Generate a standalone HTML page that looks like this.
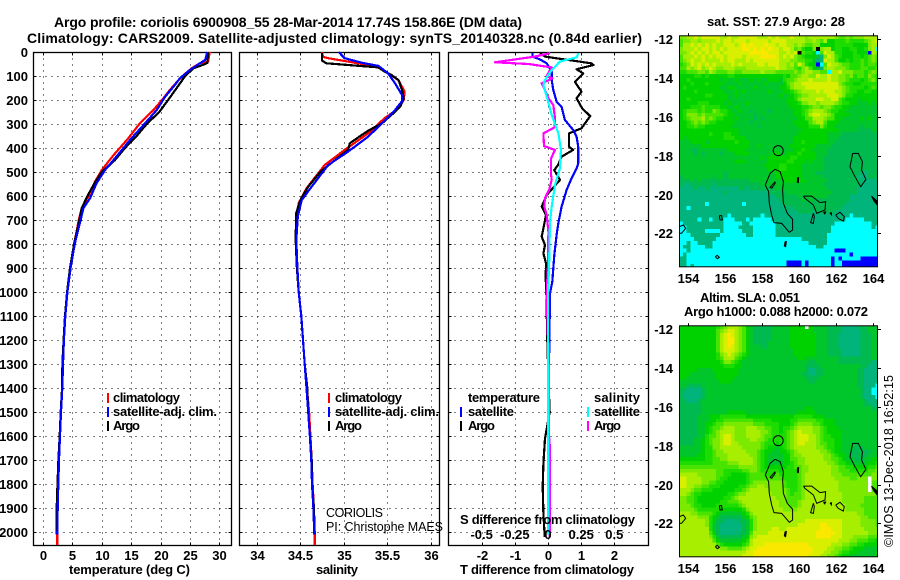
<!DOCTYPE html>
<html lang="en">
<head>
<meta charset="utf-8">
<title>Argo profile coriolis 6900908_55</title>
<style>
html,body{margin:0;padding:0;background:#fff;}
svg{display:block;}
text{font-family:"Liberation Sans",sans-serif;fill:#000;}
.b{font-weight:bold;font-size:13px;}
.t{font-weight:bold;font-size:14px;}
.r{font-weight:normal;font-size:12.5px;}
</style>
</head>
<body>
<svg id="figure" xmlns="http://www.w3.org/2000/svg" width="900" height="580" viewBox="0 0 900 580">
  <defs>
    <clipPath id="clip-map-a"><rect x="679.5" y="35.5" width="198" height="231"/></clipPath>
    <clipPath id="clip-map-b"><rect x="679.5" y="325.5" width="198" height="231"/></clipPath>
  </defs>
  <rect x="0" y="0" width="900" height="580" fill="#fff"/>

  <text class="t" x="54" y="27" textLength="468" lengthAdjust="spacing">Argo profile: coriolis 6900908_55 28-Mar-2014 17.74S 158.86E (DM data)</text>
  <text class="t" x="27" y="43" textLength="615" lengthAdjust="spacing">Climatology: CARS2009. Satellite-adjusted climatology: synTS_20140328.nc (0.84d earlier)</text>

  <g id="panel-temperature"></g>
  <g id="panel-salinity"></g>
  <g id="panel-difference"></g>
  <g id="map-sst"></g>
  <g id="map-sla"></g>

  <text class="b" x="69" y="574" textLength="121" lengthAdjust="spacing">temperature (deg C)</text>
  <text class="b" x="316" y="574" textLength="42" lengthAdjust="spacing">salinity</text>
  <text class="b" x="460" y="574" textLength="174" lengthAdjust="spacing">T difference from climatology</text>
  <text class="b" x="460" y="524" textLength="175" lengthAdjust="spacing">S difference from climatology</text>

  <g>
    <rect x="107" y="393" width="2" height="10" fill="#f00"/>
    <text class="b" x="113" y="402" textLength="67" lengthAdjust="spacing">climatology</text>
    <rect x="107" y="407" width="2" height="10" fill="#00f"/>
    <text class="b" x="113" y="416" textLength="104" lengthAdjust="spacing">satellite-adj. clim.</text>
    <rect x="107" y="421" width="2" height="10" fill="#000"/>
    <text class="b" x="113" y="430" textLength="27" lengthAdjust="spacing">Argo</text>
  </g>
  <g>
    <rect x="328" y="393" width="2" height="10" fill="#f00"/>
    <text class="b" x="335" y="402" textLength="67" lengthAdjust="spacing">climatology</text>
    <rect x="328" y="407" width="2" height="10" fill="#00f"/>
    <text class="b" x="335" y="416" textLength="104" lengthAdjust="spacing">satellite-adj. clim.</text>
    <rect x="328" y="421" width="2" height="10" fill="#000"/>
    <text class="b" x="335" y="430" textLength="27" lengthAdjust="spacing">Argo</text>
  </g>
  <g>
    <text class="b" x="468" y="402" textLength="72" lengthAdjust="spacing">temperature</text>
    <rect x="460" y="407" width="2" height="10" fill="#00f"/>
    <text class="b" x="468" y="416" textLength="46" lengthAdjust="spacing">satellite</text>
    <rect x="460" y="421" width="2" height="10" fill="#000"/>
    <text class="b" x="468" y="430" textLength="27" lengthAdjust="spacing">Argo</text>
    <text class="b" x="594" y="402" textLength="46" lengthAdjust="spacing">salinity</text>
    <rect x="587" y="407" width="2" height="10" fill="#0ff"/>
    <text class="b" x="594" y="416" textLength="46" lengthAdjust="spacing">satellite</text>
    <rect x="587" y="421" width="2" height="10" fill="#f0f"/>
    <text class="b" x="594" y="430" textLength="27" lengthAdjust="spacing">Argo</text>
  </g>

  <text class="r" x="326" y="517" textLength="57" lengthAdjust="spacing">CORIOLIS</text>
  <text class="r" x="326" y="531" textLength="117" lengthAdjust="spacing">PI: Christophe MAES</text>

  <text class="b" x="707" y="26" textLength="138" lengthAdjust="spacing">sat. SST: 27.9 Argo: 28</text>
  <text class="b" x="700" y="302" textLength="100" lengthAdjust="spacing">Altim. SLA: 0.051</text>
  <text class="b" x="684" y="316" textLength="184" lengthAdjust="spacing">Argo h1000: 0.088 h2000: 0.072</text>
  <text class="r" font-size="13" transform="translate(893,547) rotate(-90)" textLength="172" lengthAdjust="spacing">©IMOS 13-Dec-2018 16:52:15</text>

<script>
// ---------- chart data ----------
const depthTicks = [0,100,200,300,400,500,600,700,800,900,1000,1100,1200,1300,1400,1500,1600,1700,1800,1900,2000];
const temperatureTicks = [0,5,10,15,20,25,30];
const salinityTicks = [34,34.5,35,35.5,36];
const tDifferenceTicks = [-2,-1,0,1,2];
const sDifferenceTicks = ["-0.5","-0.25","0","0.25","0.5"];
const lonTicks = [154,156,158,160,162,164];
const latTicks = [-12,-14,-16,-18,-20,-22];

const climTempDepth = [0,40,47,68,103,158,193,242,297,360,430,492,540,603,650,700,800,900,1000,1100,1200,1300,1400,1500,1600,1700,1800,1900,2000,2055];
const climTempValue = [28.4,28.1,26.7,25.3,23.6,21.6,20.5,18.8,16.5,14.5,12,10,8.85,7.7,6.6,6.1,5.3,4.6,4.1,3.75,3.5,3.3,3.25,3.02,2.85,2.68,2.55,2.48,2.42,2.42];
const argoTempDepth = [0,45,50,68,100,150,200,250,300,350,400,450,500,550,600,650,700,800,900,1000,1100,1200,1300,1400,1500,1600,1700,1800,1900,2010];
const argoTempValue = [28.1,27.97,27.6,25.6,24.2,22.75,21.3,19.8,17.65,15.95,13.96,12.25,10,8.7,7.55,6.6,6.2,5.3,4.6,4.1,3.75,3.5,3.3,3.25,3.02,2.85,2.62,2.47,2.33,2.33];
const satTempDepth = [0,33,47,75,110,145,186,242,304,367,436,492,547,610,650,700,800,900,1000,1100,1200,1300,1400,1500,1600,1700,1800,1900,2010];
const satTempValue = [27.97,27.6,26.7,25,23.3,22.2,20.8,19.35,17.1,14.8,12.5,10.55,9.1,8,6.9,6.4,5.4,4.7,4.15,3.8,3.55,3.4,3.29,3.06,2.89,2.72,2.61,2.5,2.44];

const climSalDepth = [0,20,26,40,54,68,89,117,165,200,235,276,339,408,471,568,630,700,800,900,1000,1100,1200,1300,1400,1500,1600,1700,1800,1900,2000,2055];
const climSalValue = [34.75,34.76,34.82,35.05,35.28,35.42,35.51,35.63,35.7,35.69,35.63,35.47,35.28,35.01,34.78,34.57,34.48,34.45,34.45,34.46,34.48,34.51,34.53,34.55,34.575,34.6,34.615,34.63,34.64,34.655,34.665,34.665];
const argoSalDepth = [5,36,47,54,64,82,96,117,158,193,228,262,297,328,360,380,408,450,499,561,617,672,783,900,1000,1100,1200,1300,1400,1500,1600,1700,1800,1900,2010];
const argoSalValue = [34.75,34.75,34.8,35.05,35.4,35.47,35.55,35.63,35.67,35.69,35.65,35.55,35.44,35.28,35.15,35.07,35.05,34.9,34.73,34.59,34.5,34.45,34.446,34.46,34.48,34.51,34.53,34.55,34.58,34.59,34.61,34.63,34.635,34.655,34.665];
const satSalDepth = [0,26,45,58,89,130,179,205,242,297,353,415,471,561,617,686,783,900,1000,1100,1200,1300,1400,1500,1600,1700,1800,1900,2010];
const satSalValue = [34.94,35.01,35.21,35.4,35.51,35.59,35.67,35.67,35.59,35.44,35.28,35.05,34.82,34.63,34.515,34.47,34.453,34.465,34.48,34.51,34.53,34.55,34.57,34.59,34.61,34.626,34.634,34.65,34.66];

const argoTDiffDepth = [5,19,47,54,72,89,124,165,193,235,267,318,339,394,408,436,471,492,533,596,644,679,735,769,804,839,880,943,1000,1200,1400,1500,1610,1714,1811,1922,2020];
const argoTDiffValue = [-0.24,-0.09,1.3,1.37,0.86,1.06,0.81,1.01,0.86,1.03,1.27,1.01,0.63,0.63,0.76,0.41,0.3,0.19,0.36,-0.04,-0.19,-0.06,-0.14,-0.19,-0.09,-0.14,-0.06,-0.07,-0.05,-0.02,0.02,0.05,-0.09,-0.14,-0.16,-0.14,-0.1];
const satTDiffDepth = [5,19,31,47,82,117,158,207,228,283,325,353,394,464,485,526,575,644,714,762,846,957,1005,1100,1300,1500,1700,2010];
const satTDiffValue = [-0.47,-0.47,-0.24,-0.04,0.11,0.11,0.16,0.26,0.41,0.51,0.76,0.86,0.91,0.91,0.86,0.71,0.56,0.41,0.31,0.26,0.19,0.13,0.06,0.05,0.03,0.02,0.01,0];
const argoSDiffDepth = [5,19,43,50,64,100,110,131,158,193,221,276,314,339,392,408,443,485,512,533,575,610,644,679,749,887,1005,1367,1603,1652,1895,2020];
const argoSDiffValue = [0.015,-0.1,-0.4,-0.148,0.028,-0.01,0.033,-0.048,-0.023,0.003,0.04,0.053,0.048,-0.035,-0.03,0.053,0.023,0.023,0.023,0.028,0.008,-0.023,-0.028,-0.01,0.003,0,-0.01,0.008,0.008,0.015,0.015,0.012];
const satSDiffDepth = [5,22,40,75,117,138,186,262,339,408,485,554,644,707,887,1005,1400,2010];
const satSDiffValue = [0.229,0.216,0.09,0.028,-0.023,-0.035,-0.01,0.028,0.078,0.098,0.09,0.053,0.028,0.015,0.008,0,0.002,0.002];

// Heatmap levels: 0-9 = low to high, C = cyan, B = blue, K = black, W = white. Rows run north to south.
const sstRows = [
"667787888 887787788 888777878 777877767 777777655 656667777",
"566776777 787887888 788888788 887777766 765733444 544445678",
"577878787 877888789 898889887 887767655 663333444 443333677",
"677787887 878788889 989898988 788756433 6K6773443 34433467C",
"667878787 887888888 899999888 77878K544 3C5877443 334333B76",
"577787878 788788887 888899998 787865433 320687543 334434565",
"567877877 778788777 878888888 777665544 200877533 434454565",
"456878787 877778787 777887888 776758643 3BC587765 544454554",
"557678678 766777666 777777778 776654675 320677666 544455445",
"445556657 655566556 666676665 555565677 6655C7786 665554565",
"333344343 333344333 333333333 343556776 687787766 564554654",
"334333333 332322322 232322333 245567778 777787766 544434564",
"333433343 333222232 222223222 235677888 888888865 443344444",
"343333333 332233222 223222222 334677788 888888876 544443454",
"333343333 333222323 222222322 233456777 787888776 544334433",
"333333344 333322322 222222222 322345667 777788876 443333333",
"334333333 333322222 222222222 223346777 788778854 333233333",
"333334443 333232222 322222222 223334667 767777654 433222323",
"333444544 443322322 222222222 222333445 665665443 322222222",
"345554544 654432232 212222122 222233456 777654433 222222222",
"346665655 555433222 221222222 222233457 887765333 322222222",
"345666756 544332322 221212222 222223355 777655332 222232322",
"334565654 433333222 212222222 222233335 677533322 222222222",
"334454433 333332222 222122222 222223334 446433222 222212222",
"333333333 333333322 222222222 222222333 333333322 222111122",
"333333334 333443322 222222222 222223333 333322221 111111111",
"323333333 333444333 222222222 222233333 333322211 111111111",
"222333323 333333433 322222222 222233433 333322111 111111111",
"222222333 333333333 322322222 222333333 322221111 111111111",
"222112222 222233333 222222222 222233433 222211111 111111111",
"222212122 221222333 322222233 223334333 322211111 111111111",
"222222222 222222222 222232333 333443333 322111111 111111111",
"222222222 222222333 222222333 334433323 222111111 111111111",
"222222222 222222222 222223333 443333222 222111111 111111111",
"222222222 222222222 222222333 443333222 222111111 111111111",
"222222222 222122222 222222223 333333222 211111111 111100111",
"122222222 122122222 222222223 333333222 222111111 111000111",
"111212111 111111111 122222222 233333322 222211111 111100000",
"100111111 011111111 111122222 222222222 222111111 111100000",
"000010010 000000011 011111112 222222222 222211111 111000000",
"000000000 000100000 000000111 112222222 222221111 111000000",
"000000000 000000000 000000001 111112122 222211111 100000000",
"000000000 000000000 000000000 111111212 111111111 100000000",
"0000000C0 00000000C 000000000 011111111 111111111 000000000",
"00C000000 000000000 000000000 001011111 111111110 000000000",
"000000000 000000000 000000000 000001111 011111000 000000000",
"000000000 0000C0000 0000C0000 000000000 000000000 0C0000000",
"00000C00C 000CCC000 C0CCCCC00 000000000 000000000 CCCCC0000",
"C00000000 000CCCCC0 0CCCCCCC0 000000000 000000CCC CCCCCCC00",
"CC0000000 000CCCC00 00CCCCCC0 000000000 00000CCCC CCCCCCC0C",
"CC00000CC CC0CCCCC0 00CCCCCC0 000000000 00000CCCC CCCCCCCCC",
"CCC000000 00CCCCCCC 00CCCCCC0 000000000 0000CCCCC CCCCCCCCC",
"CCCC00000 0CCCCCCCC CCCCCCCCC CCCCCC000 0000CCCCC CCCCCCCCC",
"CC0CC0000 CCCCCCCCC CCCCCCCCC CCCCCCCC0 0000CCCCC CCCCCCCCC",
"C00CCCC00 CCCCCCCCC CCCCCCCCC CCCCCCCCC C00CCCCCC CCCCCCCCC",
"CC0CCCCCC CCCCCCCCC CCCCCCCCC CCCCCCCCC CCCCCCBBB CCCCCCCCC",
"C0CCCCCCC CCCCCCCCC CCCCCCCCC CCCCCCCCC CCCCCCCCC CBCCCCCCC",
"00CCCCCCC CCCCCCCCC CCCCCCCCC CCCCCCCCC CCCCCBCBC CCCCBBBBB",
"00CCCCCCC CCCCCCCCC CCCCCCCCC CCBBBBCBC CCCCCBCCB BBBBBBBBB",
"00C0CCCCC CCCCCCCCC CCCCCCCCC CCBBBBCBC CCCCCBCCB BBBBBBBBB"
];
const slaRows = [
"333333333 345677765 321111122 2223333W3 222211110 000111222",
"333333333 356788765 321111122 222333333 222211110 000011222",
"333333333 357898765 321111122 222333333 322211100 000011122",
"333333333 357899765 321111122 222333333 322211100 000011122",
"333333333 357899765 321111222 222333333 322211100 000011122",
"333333333 357898765 322211222 222333333 322211100 000011122",
"333333333 357888765 322222222 222233333 322211110 000011122",
"333333333 346787654 322222222 222233333 322211110 000011122",
"333333333 345777543 222222222 222223322 222222211 111111122",
"333333333 334665432 222222222 222222221 122222211 111111100",
"333333333 333444332 222222222 222222211 112222222 222211000",
"333332222 333333322 222222222 222222210 011222222 222110000",
"333222222 233333322 222222222 222222110 011222222 222110000",
"332222222 233333222 222222222 222222211 112222222 222110000",
"222222222 223332222 222222222 222222221 122222222 222110000",
"221111222 222222222 222222222 222222222 222222222 22211000C",
"110000122 222222222 222222222 222222222 222222222 2222100CC",
"100000122 222222222 222222222 222222222 222222222 2222100CC",
"100000122 222222222 222222222 222222222 222222222 22221000C",
"110001222 222222222 222222222 222222222 222222222 222221000",
"111111222 222222222 222222222 222222222 222222222 222221100",
"111111222 222222222 222222222 222222233 222222222 222222211",
"111111222 222233333 222222222 222223333 322222222 222222222",
"111112223 334444444 333333333 333344444 333222222 222222222",
"111112223 344555555 554444433 333445555 544333222 222222222",
"111112233 455666666 665554444 333456666 554333222 222222222",
"111112234 556777666 777665544 344567777 665433322 222222222",
"111112234 567777666 777766544 345678777 665433332 222222222",
"111112245 567887666 777765544 445678887 765443332 222222222",
"111122345 667887666 677665444 445678887 765444332 222222222",
"111122345 667887766 666654443 445678877 765544332 222222222",
"222222344 667777776 666654332 345677777 766544332 221112222",
"222222344 566777777 666543322 334567777 776654332 211111122",
"222223344 566677777 766543222 233566777 777665433 211111222",
"333333344 556677777 776543222 233556677 777665543 221112233",
"444444444 555566677 776543222 233456677 777766544 322222334",
"555555555 555555566 666543333 334455667 777776655 443333445",
"666666666 655444445 566544444 344445667 777776655 544444556",
"777776666 655443333 455554445 444445677 777776665 555555566",
"887777666 654433333 455555555 544445677 777777666 655666W66",
"887777665 544333333 456666666 654445677 777777766 666666W55",
"887766554 443333344 566776666 654445677 777777766 666666W55",
"777655444 333333445 677777666 665445677 777777766 666666W54",
"776544333 333344566 777777766 665455677 777777776 666666665",
"665543333 333445677 777777776 665555677 777777776 666665555",
"665543333 334455567 777777777 665556777 777777776 666665555",
"666544333 344444456 777777777 666556777 777777777 666655555",
"666654444 443333334 677777777 766667777 777777777 666665555",
"777665555 432222223 467777777 777777777 777777777 777665555",
"777776664 321111112 356777777 777777777 777777777 777766555",
"777777764 311000011 246777777 777777788 888888887 777766665",
"777777764 210000001 246777777 777778888 889988887 777766665",
"777777774 210000001 246777788 778888888 889998887 777776666",
"777777775 310000011 257777888 888888888 899999887 777777666",
"777777776 421111112 367888888 888888888 899998887 776666555",
"777777777 532222223 478888888 888888888 888888877 766555443",
"777777777 754333334 578889999 999999998 888887776 655443333",
"777777777 776655556 788999999 999999999 888877665 543332222",
"777777777 777777777 889999999 999999999 888776654 433222223",
"777777777 777777778 889999999 999999998 887766543 322222223"
];

// Coastline outlines as longitude / latitude lists
const coastMainLon = [158.69,158.96,159.14,159.10,159.14,159.35,159.64,159.64,159.46,159.23,159.05,158.63,158.51,158.38,158.34,158.16,158.42,158.69];
const coastMainLat = [-18.70,-18.82,-19.34,-19.77,-20.46,-20.97,-21.28,-21.83,-21.95,-21.69,-21.49,-21.45,-21.06,-20.46,-19.85,-19.51,-18.91,-18.70];
const coastLagoonLon = [158.69,158.70,158.51,158.42,158.69];
const coastLagoonLat = [-19.34,-19.42,-19.68,-19.63,-19.34];
const coastEastLon = [162.88,163.19,163.41,163.37,163.60,163.32,163.01,162.74,162.83,162.88];
const coastEastLat = [-17.88,-17.88,-18.31,-18.74,-19.22,-19.60,-19.08,-18.57,-18.14,-17.88];
const coastCentralLon = [160.22,160.67,161.12,161.42,161.39,160.94,160.76,160.31,160.22];
const coastCentralLat = [-20.08,-20.08,-20.42,-20.37,-20.80,-20.97,-20.54,-20.20,-20.08];
const coastTailLon = [160.76,160.61,160.76,160.81,160.76];
const coastTailLat = [-20.97,-21.45,-21.49,-21.14,-20.97];
const coastReefLon = [161.97,162.20,162.43,162.38,162.11,161.97];
const coastReefLat = [-21.06,-20.92,-21.14,-21.37,-21.23,-21.06];
const coastSmallALon = [155.68,155.80,155.84,155.71,155.68];
const coastSmallALat = [-21.09,-21.09,-21.31,-21.31,-21.09];
const coastWestLon = [153.52,153.73,153.86,153.64,153.52];
const coastWestLat = [-21.66,-21.57,-21.74,-22.00,-22.00];
const coastSmallBLon = [155.46,155.57,155.68,155.57,155.46];
const coastSmallBLat = [-23.20,-23.14,-23.24,-23.31,-23.20];
const coastSmallCLon = [159.23,159.30,159.26,159.19,159.23];
const coastSmallCLat = [-22.43,-22.43,-22.69,-22.65,-22.43];
const coastSmallDLon = [159.91,159.96,159.95,159.89,159.91];
const coastSmallDLat = [-19.13,-19.13,-19.39,-19.37,-19.13];
const coastDotALon = [161.30,161.42,161.38,161.30];
const coastDotALat = [-20.92,-20.90,-21.00,-20.92];
const coastDotBLon = [161.66,161.74,161.74,161.66];
const coastDotBLat = [-20.95,-20.95,-21.05,-20.95];
const coastEdgeLon = [163.90,164.22,164.22,164.05,163.90];
const coastEdgeLat = [-20.08,-20.35,-20.54,-20.35,-20.08];
const argoLon = [158.86];
const argoLat = [-17.74];

// ---------- axis functions ----------
const depthY = d => 52 + 0.24 * d;
const tempX = v => 43 + 5.875 * v;
const salX = v => 257 + 86.8 * (v - 34);
const diffTX = v => 548 + 33.2 * v;
const diffSX = v => 548 + 132.7 * v;
const lonX = v => 688.3 + 18.5 * (v - 154);
const latY = (v, top) => top + 4 + 19.4 * (-12 - v);

const SVGNS = "http://www.w3.org/2000/svg";
const mk = (tag, parent) => { const e = document.createElementNS(SVGNS, tag); parent.appendChild(e); return e; };

function drawFrame(g, left, right, top, bottom, xTicks, xFn, yLabels) {
  const frame = mk("rect", g);
  
  
  frame.setAttribute("x", left); frame.setAttribute("y", top);
  frame.setAttribute("width", right - left); frame.setAttribute("height", bottom - top);
  frame.setAttribute("fill", "none"); frame.setAttribute("stroke", "#000"); frame.setAttribute("stroke-width", "1.3");

  depthTicks.forEach(d => {
    const y = Math.round(depthY(d)) + 0.5;
    const grid = mk("line", g);
    
    
    grid.setAttribute("x1", left); grid.setAttribute("x2", right);
    grid.setAttribute("y1", y); grid.setAttribute("y2", y);
    grid.setAttribute("stroke", "#000"); grid.setAttribute("stroke-dasharray", "1 5");
    [[left, left + 3], [right - 3, right]].forEach(p => {
      const tick = mk("line", g);
      
      
      tick.setAttribute("x1", p[0]); tick.setAttribute("x2", p[1]);
      tick.setAttribute("y1", y); tick.setAttribute("y2", y);
      tick.setAttribute("stroke", "#000");
    });
    if (yLabels) {
      const lab = mk("text", g);
      
      
      lab.setAttribute("class", "b");
      lab.setAttribute("x", 28); lab.setAttribute("y", y + 4.5);
      lab.setAttribute("text-anchor", "end");
      lab.textContent = d;
    }
  });

  xTicks.forEach(v => {
    const x = Math.round(xFn(v)) + 0.5;
    const grid = mk("line", g);
    
    
    grid.setAttribute("x1", x); grid.setAttribute("x2", x);
    grid.setAttribute("y1", top); grid.setAttribute("y2", bottom);
    grid.setAttribute("stroke", "#000"); grid.setAttribute("stroke-dasharray", "1 5");
    [[top, top + 3], [bottom - 3, bottom]].forEach(p => {
      const tick = mk("line", g);
      
      
      tick.setAttribute("x1", x); tick.setAttribute("x2", x);
      tick.setAttribute("y1", p[0]); tick.setAttribute("y2", p[1]);
      tick.setAttribute("stroke", "#000");
    });
    const lab = mk("text", g);
    
    
    lab.setAttribute("class", "b");
    lab.setAttribute("x", x); lab.setAttribute("y", 560);
    lab.setAttribute("text-anchor", "middle");
    lab.textContent = v;
  });
}

function drawSeries(g, name, color, depths, values, xFn) {
  const pts = depths.map((d, i) => xFn(values[i]).toFixed(1) + "," + depthY(d).toFixed(1)).join(" ");
  const line = mk("polyline", g);
  
  
  line.setAttribute("points", pts);
  line.setAttribute("fill", "none");
  line.setAttribute("stroke", color);
  line.setAttribute("stroke-width", "2.2");
  line.setAttribute("stroke-linejoin", "round");
  line.setAttribute("shape-rendering", "crispEdges");
}

const gT = document.getElementById("panel-temperature");
drawFrame(gT, 33.5, 231.5, 52.5, 545.5, temperatureTicks, tempX, true);
drawSeries(gT, "climatology-temperature-line", "#f00", climTempDepth, climTempValue, tempX);
drawSeries(gT, "argo-temperature-line", "#000", argoTempDepth, argoTempValue, tempX);
drawSeries(gT, "satellite-temperature-line", "#00f", satTempDepth, satTempValue, tempX);

const gS = document.getElementById("panel-salinity");
drawFrame(gS, 239.5, 439.5, 52.5, 545.5, salinityTicks, salX, false);
drawSeries(gS, "climatology-salinity-line", "#f00", climSalDepth, climSalValue, salX);
drawSeries(gS, "argo-salinity-line", "#000", argoSalDepth, argoSalValue, salX);
drawSeries(gS, "satellite-salinity-line", "#00f", satSalDepth, satSalValue, salX);

const gD = document.getElementById("panel-difference");
drawFrame(gD, 448.5, 648.5, 52.5, 545.5, tDifferenceTicks, diffTX, false);
drawSeries(gD, "argo-t-difference-line", "#000", argoTDiffDepth, argoTDiffValue, diffTX);
drawSeries(gD, "satellite-t-difference-line", "#00f", satTDiffDepth, satTDiffValue, diffTX);
drawSeries(gD, "argo-s-difference-line", "#f0f", argoSDiffDepth, argoSDiffValue, diffSX);
drawSeries(gD, "satellite-s-difference-line", "#0ff", satSDiffDepth, satSDiffValue, diffSX);

sDifferenceTicks.forEach(s => {
  const lab = mk("text", gD);
  
  
  lab.setAttribute("class", "b");
  lab.setAttribute("x", diffSX(parseFloat(s)));
  lab.setAttribute("y", 539);
  lab.setAttribute("text-anchor", "middle");
  lab.textContent = s;
});

// ---------- maps ----------
const levelColor = {
  "0":"#00b47c","1":"#00ba50","2":"#00c62c","3":"#00d200","4":"#1cdc00",
  "5":"#48e400","6":"#7cea00","7":"#a8ee00","8":"#d8f000","9":"#fae800",
  "C":"#00ffff","B":"#0000ff","K":"#000000","W":"#ffffff"
};
const cellLon0 = 153.51, cellLat0 = -11.79, cellStep = 0.2;

function drawCoast(g, top, name, lons, lats, filled) {
  const pts = lons.map((v, i) => lonX(v).toFixed(1) + "," + latY(lats[i], top).toFixed(1)).join(" ");
  const poly = mk("polyline", g);
  
  
  poly.setAttribute("points", pts);
  poly.setAttribute("fill", filled ? "#000" : "none");
  poly.setAttribute("stroke", "#000");
  poly.setAttribute("stroke-width", "1");
}

function drawMap(g, rows, top, clipId, panelBottom) {
  const cells = mk("g", g);
  
  
  cells.setAttribute("clip-path", "url(#" + clipId + ")");
  cells.setAttribute("shape-rendering", "crispEdges");
  const bg = mk("rect", cells);
  
  
  bg.setAttribute("x", 679.5); bg.setAttribute("y", top + 0.5);
  bg.setAttribute("width", 198); bg.setAttribute("height", 231);
  bg.setAttribute("fill", levelColor["2"]);
  rows.forEach((row, r) => {
    row.replace(/\s/g, "").split("").forEach((ch, c) => {
      const lon = cellLon0 + c * cellStep;
      const lat = cellLat0 - r * cellStep;
      const x0 = lonX(lon), x1 = lonX(lon + cellStep);
      const y0 = latY(lat, top), y1 = latY(lat - cellStep, top);
      const cell = mk("rect", cells);
      
      
      cell.setAttribute("x", x0.toFixed(2));
      cell.setAttribute("y", y0.toFixed(2));
      cell.setAttribute("width", (x1 - x0 + 0.4).toFixed(2));
      cell.setAttribute("height", (y1 - y0 + 0.4).toFixed(2));
      cell.setAttribute("fill", levelColor[ch] || levelColor["2"]);
    });
  });

  const coast = mk("g", g);
  
  
  coast.setAttribute("clip-path", "url(#" + clipId + ")");
  drawCoast(coast, top, "coast-main-island", coastMainLon, coastMainLat, false);
  drawCoast(coast, top, "coast-lagoon", coastLagoonLon, coastLagoonLat, false);
  drawCoast(coast, top, "coast-east-island", coastEastLon, coastEastLat, false);
  drawCoast(coast, top, "coast-central-island", coastCentralLon, coastCentralLat, false);
  drawCoast(coast, top, "coast-central-tail", coastTailLon, coastTailLat, false);
  drawCoast(coast, top, "coast-reef", coastReefLon, coastReefLat, false);
  drawCoast(coast, top, "coast-small-a", coastSmallALon, coastSmallALat, false);
  drawCoast(coast, top, "coast-west-island", coastWestLon, coastWestLat, false);
  drawCoast(coast, top, "coast-small-b", coastSmallBLon, coastSmallBLat, false);
  drawCoast(coast, top, "coast-small-c", coastSmallCLon, coastSmallCLat, true);
  drawCoast(coast, top, "coast-small-d", coastSmallDLon, coastSmallDLat, true);
  drawCoast(coast, top, "coast-dot-a", coastDotALon, coastDotALat, true);
  drawCoast(coast, top, "coast-dot-b", coastDotBLon, coastDotBLat, true);
  drawCoast(coast, top, "coast-edge", coastEdgeLon, coastEdgeLat, true);

  const marker = mk("circle", g);
  
  
  marker.setAttribute("cx", lonX(argoLon[0]));
  marker.setAttribute("cy", latY(argoLat[0], top));
  marker.setAttribute("r", 5);
  marker.setAttribute("fill", "none");
  marker.setAttribute("stroke", "#000");

  const frame = mk("rect", g);
  
  
  frame.setAttribute("x", 679.5); frame.setAttribute("y", top + 0.5);
  frame.setAttribute("width", 198); frame.setAttribute("height", 231);
  frame.setAttribute("fill", "none"); frame.setAttribute("stroke", "#000");

  lonTicks.forEach(v => {
    const x = Math.round(lonX(v)) + 0.5;
    const tick = mk("line", g);
    
    
    tick.setAttribute("x1", x); tick.setAttribute("x2", x);
    tick.setAttribute("y1", top - 2); tick.setAttribute("y2", top + 1);
    tick.setAttribute("stroke", "#000");
    const lab = mk("text", g);
    
    
    lab.setAttribute("class", "b");
    lab.setAttribute("x", x); lab.setAttribute("y", panelBottom);
    lab.setAttribute("text-anchor", "middle");
    lab.textContent = v;
  });
  latTicks.forEach(v => {
    const y = Math.round(latY(v, top)) + 0.5;
    const tick = mk("line", g);
    
    
    tick.setAttribute("x1", 877.5); tick.setAttribute("x2", 881);
    tick.setAttribute("y1", y); tick.setAttribute("y2", y);
    tick.setAttribute("stroke", "#000");
    const lab = mk("text", g);
    
    
    lab.setAttribute("class", "b");
    lab.setAttribute("x", 673); lab.setAttribute("y", y + 4.5);
    lab.setAttribute("text-anchor", "end");
    lab.textContent = v;
  });
}

drawMap(document.getElementById("map-sst"), sstRows, 35.3, "clip-map-a", 283);
drawMap(document.getElementById("map-sla"), slaRows, 325.3, "clip-map-b", 573);
</script>
</svg>
</body>
</html>
